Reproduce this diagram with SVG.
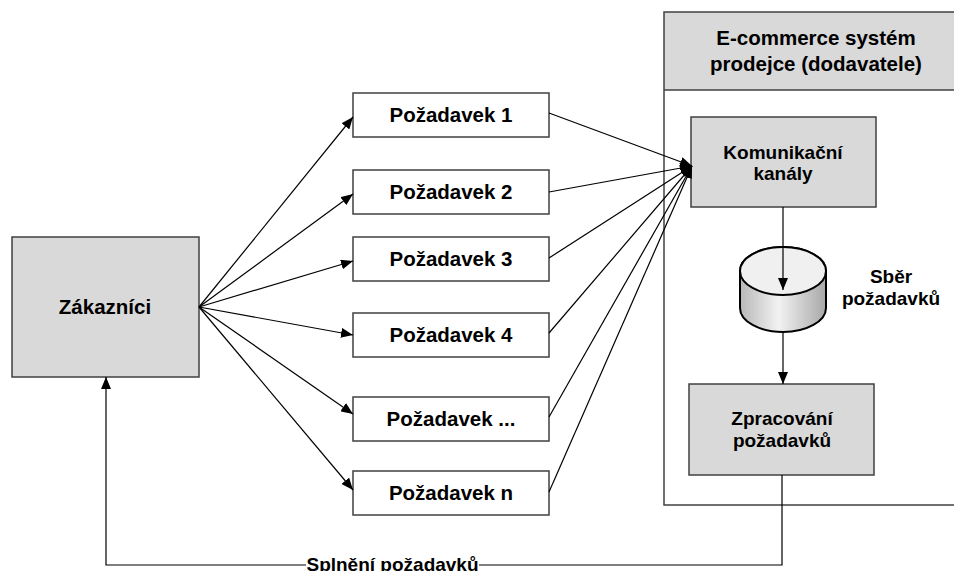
<svg xmlns="http://www.w3.org/2000/svg" width="954" height="571" viewBox="0 0 954 571">
<defs>
<marker id="ah" markerUnits="userSpaceOnUse" markerWidth="12" markerHeight="10" refX="12" refY="5" orient="auto">
<path d="M0,0 L12,5 L0,10 Z" fill="#000"/>
</marker>
<linearGradient id="cyl" x1="0" y1="0" x2="1" y2="0">
<stop offset="0" stop-color="#b8b8b8"/>
<stop offset="0.45" stop-color="#f2f2f2"/>
<stop offset="1" stop-color="#a8a8a8"/>
</linearGradient>
<style>
.box{stroke:#404040;stroke-width:1.5}
.gray{fill:#d9d9d9}
.white{fill:#fff}
.t{font-family:"Liberation Sans",Arial,sans-serif;font-weight:bold;text-anchor:middle;fill:#000}
.big{font-size:20.5px}
.mid{font-size:19px}
.ln{stroke:#000;stroke-width:1.2;fill:none}
</style>
</defs>
<rect width="954" height="571" fill="#fff"/>

<g id="system">
<rect x="664" y="12" width="300" height="78" class="gray"/>
<rect x="664" y="12" width="300" height="493" class="box" fill="none"/>
<line x1="664" y1="90" x2="954" y2="90" class="box"/>
<text class="t big" x="816" y="45">E-commerce systém</text>
<text class="t big" x="816" y="71">prodejce (dodavatele)</text>
</g>

<g id="zakaznici">
<rect x="12" y="237" width="187" height="140" class="box gray"/>
<text class="t big" x="105" y="314">Zákazníci</text>
</g>

<g id="pozadavek1">
<rect x="353" y="93" width="196" height="44" class="box white"/>
<text class="t big" x="451" y="122">Požadavek 1</text>
</g>
<g id="pozadavek2">
<rect x="353" y="170" width="196" height="44" class="box white"/>
<text class="t big" x="451" y="199">Požadavek 2</text>
</g>
<g id="pozadavek3">
<rect x="353" y="237" width="196" height="44" class="box white"/>
<text class="t big" x="451" y="266">Požadavek 3</text>
</g>
<g id="pozadavek4">
<rect x="353" y="313" width="196" height="44" class="box white"/>
<text class="t big" x="451" y="342">Požadavek 4</text>
</g>
<g id="pozadavekdots">
<rect x="353" y="397" width="196" height="44" class="box white"/>
<text class="t big" x="451" y="426">Požadavek ...</text>
</g>
<g id="pozadavekn">
<rect x="353" y="471" width="196" height="44" class="box white"/>
<text class="t big" x="451" y="500">Požadavek n</text>
</g>

<g id="komunikacni">
<rect x="691" y="117" width="185" height="90" class="box gray"/>
<text class="t mid" x="783" y="159">Komunikační</text>
<text class="t mid" x="783" y="180">kanály</text>
</g>

<g id="sber">
<path d="M740,271 L740,308 A43,24 0 0 0 826,308 L826,271 A43,24 0 0 0 740,271 Z" fill="url(#cyl)" stroke="#000" stroke-width="2"/>
<ellipse cx="783" cy="271" rx="43" ry="24" fill="#f0f0f0" stroke="#000" stroke-width="2"/>
<text class="t mid" x="891" y="283">Sběr</text>
<text class="t mid" x="891" y="305">požadavků</text>
</g>

<g id="zpracovani">
<rect x="689" y="384" width="185" height="91" class="box gray"/>
<text class="t mid" x="782" y="425">Zpracování</text>
<text class="t mid" x="782" y="447">požadavků</text>
</g>

<g id="connectors">
<line class="ln" x1="199" y1="307" x2="353" y2="117" marker-end="url(#ah)"/>
<line class="ln" x1="199" y1="307" x2="353" y2="194" marker-end="url(#ah)"/>
<line class="ln" x1="199" y1="307" x2="353" y2="261" marker-end="url(#ah)"/>
<line class="ln" x1="199" y1="307" x2="353" y2="335" marker-end="url(#ah)"/>
<line class="ln" x1="199" y1="307" x2="353" y2="414" marker-end="url(#ah)"/>
<line class="ln" x1="199" y1="307" x2="353" y2="490" marker-end="url(#ah)"/>

<line class="ln" x1="549" y1="113" x2="692" y2="166" marker-end="url(#ah)"/>
<line class="ln" x1="549" y1="192" x2="692" y2="166" marker-end="url(#ah)"/>
<line class="ln" x1="549" y1="258" x2="692" y2="166" marker-end="url(#ah)"/>
<line class="ln" x1="549" y1="333" x2="692" y2="166" marker-end="url(#ah)"/>
<line class="ln" x1="549" y1="417" x2="692" y2="166" marker-end="url(#ah)"/>
<line class="ln" x1="549" y1="492" x2="692" y2="166" marker-end="url(#ah)"/>

<line class="ln" x1="783" y1="207" x2="783" y2="290" marker-end="url(#ah)"/>
<line class="ln" x1="783" y1="332" x2="783" y2="384" marker-end="url(#ah)"/>

<polyline class="ln" points="782,475 782,565 479,565"/>
<polyline class="ln" points="306,565 106,565 106,377" marker-end="url(#ah)"/>
<text class="t mid" x="392.5" y="571">Splnění požadavků</text>
</g>
</svg>
